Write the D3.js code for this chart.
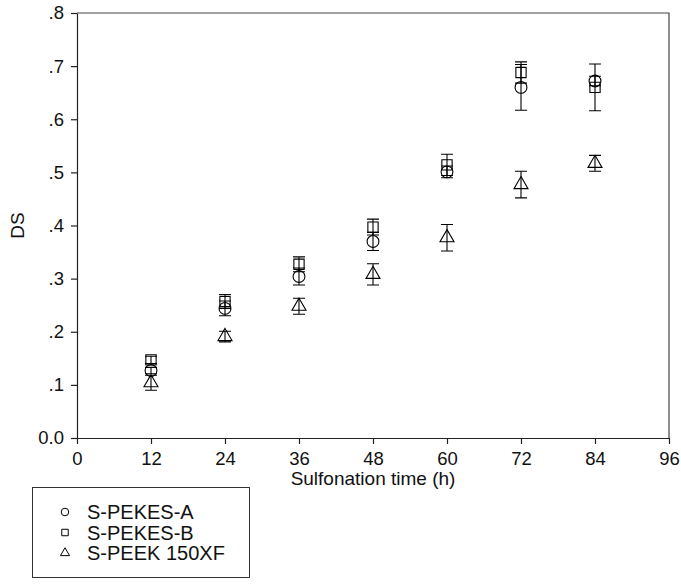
<!DOCTYPE html>
<html>
<head>
<meta charset="utf-8">
<script src="https://cdn.jsdelivr.net/npm/d3@7"></script>
<style>
  body { margin: 0; background: #fff; }
  text { font-family: "Liberation Sans", Arial, sans-serif; fill: #111; }
</style>
</head>
<body>
<script>
var width = 681,
    height = 584;

// sulfonation time (h)
var hours = [12, 24, 36, 48, 60, 72, 84];
var xTicks = [0, 12, 24, 36, 48, 60, 72, 84, 96];
var yTicks = [0, 0.1, 0.2, 0.3, 0.4, 0.5, 0.6, 0.7, 0.8];

// DS values + error
var pekesA = [0.127, 0.244, 0.304, 0.370, 0.501, 0.660, 0.672];
var pekesAErr = [0.006, 0.014, 0.016, 0.017, 0.011, 0.043, 0.009];
var pekesB = [0.147, 0.257, 0.327, 0.397, 0.514, 0.688, 0.660];
var pekesBErr = [0.007, 0.013, 0.014, 0.015, 0.020, 0.020, 0.044];
var peek = [0.104, 0.191, 0.248, 0.308, 0.377, 0.477, 0.517];
var peekErr = [0.014, 0.010, 0.015, 0.020, 0.025, 0.025, 0.015];

var seriesNames = ["S-PEKES-A", "S-PEKES-B", "S-PEEK 150XF"];

var series = [
  {name: seriesNames[0], sym: d3.symbolCircle, vals: pekesA, err: pekesAErr},
  {name: seriesNames[1], sym: d3.symbolSquare, vals: pekesB, err: pekesBErr},
  {name: seriesNames[2], sym: d3.symbolTriangle, vals: peek, err: peekErr}
];

var margin = {left: 77, right: 12, top: 13, bottom: 146};

var x = d3.scaleLinear().domain([0, 96]).range([margin.left, width - margin.right]);
var y = d3.scaleLinear().domain([0, 0.8]).range([height - margin.bottom, margin.top]);

var svg = d3.select("body").append("svg")
    .attr("width", width)
    .attr("height", height);

// frame (top + right)
svg.append("path")
  .attr("d", "M" + x(0) + "," + y(0.8) + "H" + x(96) + "V" + y(0))
  .attr("fill", "none")
  .attr("stroke", "#444")
  .attr("stroke-width", 1.2);

var xAxis = svg.append("g")
  .attr("transform", "translate(0," + y(0) + ")")
  .call(d3.axisBottom(x).tickValues(xTicks).tickSize(6).tickPadding(8).tickSizeOuter(0));

var yFmt = function(d) { return d === 0 ? "0.0" : d3.format(".1f")(d).replace(/^0/, ""); };
var yAxis = svg.append("g")
  .attr("transform", "translate(" + x(0) + ",0)")
  .call(d3.axisLeft(y).tickValues(yTicks).tickFormat(yFmt).tickSize(6).tickPadding(7).tickSizeOuter(0));

[xAxis, yAxis].forEach(function(g) {
  g.selectAll("path, line").attr("stroke", "#222").attr("stroke-width", 1.2);
  g.selectAll("text").style("font-size", "18.5px").attr("fill", "#111");
});

// axis titles
svg.append("text")
  .attr("x", (x(0) + x(96)) / 2)
  .attr("y", 485)
  .attr("text-anchor", "middle")
  .style("font-size", "19px")
  .text("Sulfonation time (h)");

svg.append("text")
  .attr("transform", "translate(24," + (y(0) + y(0.8)) / 2 + ") rotate(-90)")
  .attr("text-anchor", "middle")
  .style("font-size", "19px")
  .text("DS");

// error bars
var capW = 6;
series.forEach(function(s) {
  var g = svg.append("g").attr("stroke", "#000").attr("stroke-width", 1.1).attr("fill", "none");
  hours.forEach(function(h, i) {
    var cx = x(h), lo = y(s.vals[i] - s.err[i]), hi = y(s.vals[i] + s.err[i]);
    g.append("path")
      .attr("d", "M" + cx + "," + lo + "V" + hi +
                 "M" + (cx - capW) + "," + lo + "H" + (cx + capW) +
                 "M" + (cx - capW) + "," + hi + "H" + (cx + capW));
  });
});

// markers
var symSize = {"S-PEKES-A": 110, "S-PEKES-B": 105, "S-PEEK 150XF": 85};
series.forEach(function(s) {
  svg.append("g").selectAll("path")
    .data(s.vals)
    .enter().append("path")
    .attr("transform", function(d, i) { return "translate(" + x(hours[i]) + "," + y(d) + ")"; })
    .attr("d", d3.symbol().type(s.sym).size(symSize[s.name]))
    .attr("fill", "none")
    .attr("stroke", "#000")
    .attr("stroke-width", 1.1);
});

// legend
var lg = svg.append("g");
lg.append("rect")
  .attr("x", 32.5).attr("y", 487.5)
  .attr("width", 217).attr("height", 90)
  .attr("fill", "none").attr("stroke", "#333").attr("stroke-width", 1);

var legSize = {"S-PEKES-A": 45, "S-PEKES-B": 42, "S-PEEK 150XF": 36};
series.forEach(function(s, i) {
  var ly = 512 + i * 20.5;
  lg.append("path")
    .attr("transform", "translate(65," + ly + ")")
    .attr("d", d3.symbol().type(s.sym).size(legSize[s.name]))
    .attr("fill", "none").attr("stroke", "#000").attr("stroke-width", 1);
  lg.append("text")
    .attr("x", 87).attr("y", ly)
    .attr("dy", "0.35em")
    .style("font-size", "20px")
    .text(s.name);
});
</script>
</body>
</html>
